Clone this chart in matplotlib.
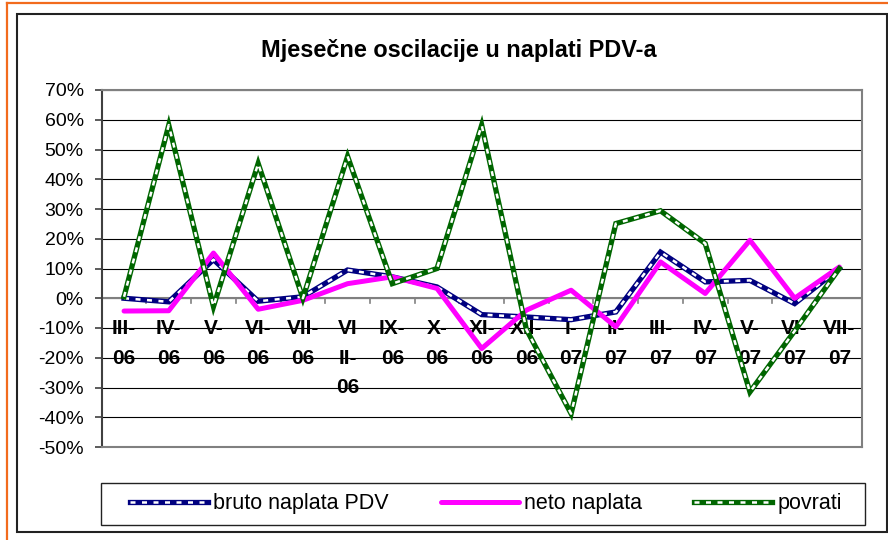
import matplotlib
matplotlib.use('Agg')
import matplotlib.pyplot as plt
from matplotlib.patches import Rectangle
from matplotlib.lines import Line2D

plt.rcParams['font.family'] = ['Liberation Sans', 'DejaVu Sans']

categories = ['III-06', 'IV-06', 'V-06', 'VI-06', 'VII-06', 'VIII-06', 'IX-06', 'X-06',
              'XI-06', 'XII-06', 'I-07', 'II-07', 'III-07', 'IV-07', 'V-07', 'VI-07', 'VII-07']
tick_labels = ['III-\n06', 'IV-\n06', 'V-\n06', 'VI-\n06', 'VII-\n06', 'VI\nII-\n06', 'IX-\n06',
               'X-\n06', 'XI-\n06', 'XII-\n06', 'I-\n07', 'II-\n07', 'III-\n07', 'IV-\n07',
               'V-\n07', 'VI-\n07', 'VII-\n07']

# mjesecne promjene u %
bruto = [0.0, -1.2, 13.0, -1.0, 0.5, 9.5, 7.2, 3.8, -5.5, -6.3, -7.2, -4.6, 15.5, 5.5, 6.0, -1.8, 10.0]
neto = [-4.3, -4.2, 15.2, -3.7, -0.7, 4.9, 7.2, 3.3, -16.9, -4.0, 2.7, -9.6, 12.2, 1.6, 19.5, 0.0, 10.5]
povrati = [0.5, 58.2, -2.8, 45.3, 0.0, 47.7, 4.9, 10.0, 58.2, -10.5, -38.8, 25.1, 29.4, 18.4, -31.5, -11.0, 10.0]

y_ticks = [70, 60, 50, 40, 30, 20, 10, 0, -10, -20, -30, -40, -50]

W, H = 888, 540
fig = plt.figure(figsize=(W / 100, H / 100), dpi=100)

# okviri
fig.patches.append(Rectangle((17 / W, 1 - 532 / H), 870 / W, 518 / H, transform=fig.transFigure,
                             fill=False, edgecolor='#222222', linewidth=1.5))
fig.lines.append(Line2D([7 / W, 1], [1 - 3 / H, 1 - 3 / H], transform=fig.transFigure,
                        color='#F26B1D', linewidth=1.6))
fig.lines.append(Line2D([7 / W, 7 / W], [0, 1 - 3 / H], transform=fig.transFigure,
                        color='#F26B1D', linewidth=1.6))

ax = fig.add_axes([101.7 / W, 1 - 447 / H, 760 / W, 357 / H])
x = list(range(len(categories)))

for v in y_ticks:
    ax.axhline(v, color='black', linewidth=0.8, zorder=1)

for side in ['top', 'right', 'bottom']:
    ax.spines[side].set_color('#808080')
    ax.spines[side].set_linewidth(1.5)
ax.spines['left'].set_color('#404040')
ax.spines['left'].set_linewidth(1.5)

# x os na nuli
ax.axhline(0, color='#808080', linewidth=1.5, zorder=2)
for b in range(1, len(categories)):
    ax.plot([b - 0.5, b - 0.5], [0, -1.7], color='#808080', linewidth=1.2, zorder=2,
            clip_on=False)

def dashed(vals, color):
    l1, = ax.plot(x, vals, color=color, linewidth=3.8, zorder=3, solid_joinstyle='miter')
    l2, = ax.plot(x, vals, color='white', linewidth=1.8, zorder=4,
                  linestyle=(0, (2.0, 2.6)))
    return (l1, l2)

h_bruto = dashed(bruto, '#000080')
h_neto, = ax.plot(x, neto, color='#FF00FF', linewidth=3.6, zorder=5,
                  solid_capstyle='round')
h_povrati = dashed(povrati, '#006600')
for art in h_povrati:
    art.set_zorder(art.get_zorder() + 3)

ax.set_xlim(-0.5, len(categories) - 0.5)
ax.set_ylim(-50, 70)
ax.set_yticks(y_ticks)
ax.set_yticklabels(['%d%%' % v for v in y_ticks], fontsize=14)
ax.tick_params(axis='y', direction='out', length=5, width=1.2, color='#404040', pad=8)

# oznake kategorija ispod linija
ax.set_xticks([])
for i, lab in enumerate(tick_labels):
    ax.annotate(lab, xy=(i, 0), xytext=(0, -15), textcoords='offset points',
                ha='center', va='top', fontsize=15, fontweight='bold',
                linespacing=1.7, zorder=2.5)

fig.text(459 / W, 1 - 57 / H, 'Mjesečne oscilacije u naplati PDV-a', ha='center',
         va='baseline', fontsize=16.9, fontweight='bold')

# legenda
fig.patches.append(Rectangle((101 / W, 1 - 525 / H), 764 / W, 42 / H, transform=fig.transFigure,
                             fill=False, edgecolor='#222222', linewidth=1.0))
fig.legend([h_bruto, h_neto, h_povrati], ['bruto naplata PDV', 'neto naplata', 'povrati'],
           loc='center', bbox_to_anchor=(128 / W, 1 - 525 / H, 716 / W, 42 / H),
           mode='expand', ncol=3, frameon=False, fontsize=15.5, handlelength=3.6,
           handletextpad=0.25, borderpad=0.1, borderaxespad=0)

fig.savefig('out.png', dpi=100)
